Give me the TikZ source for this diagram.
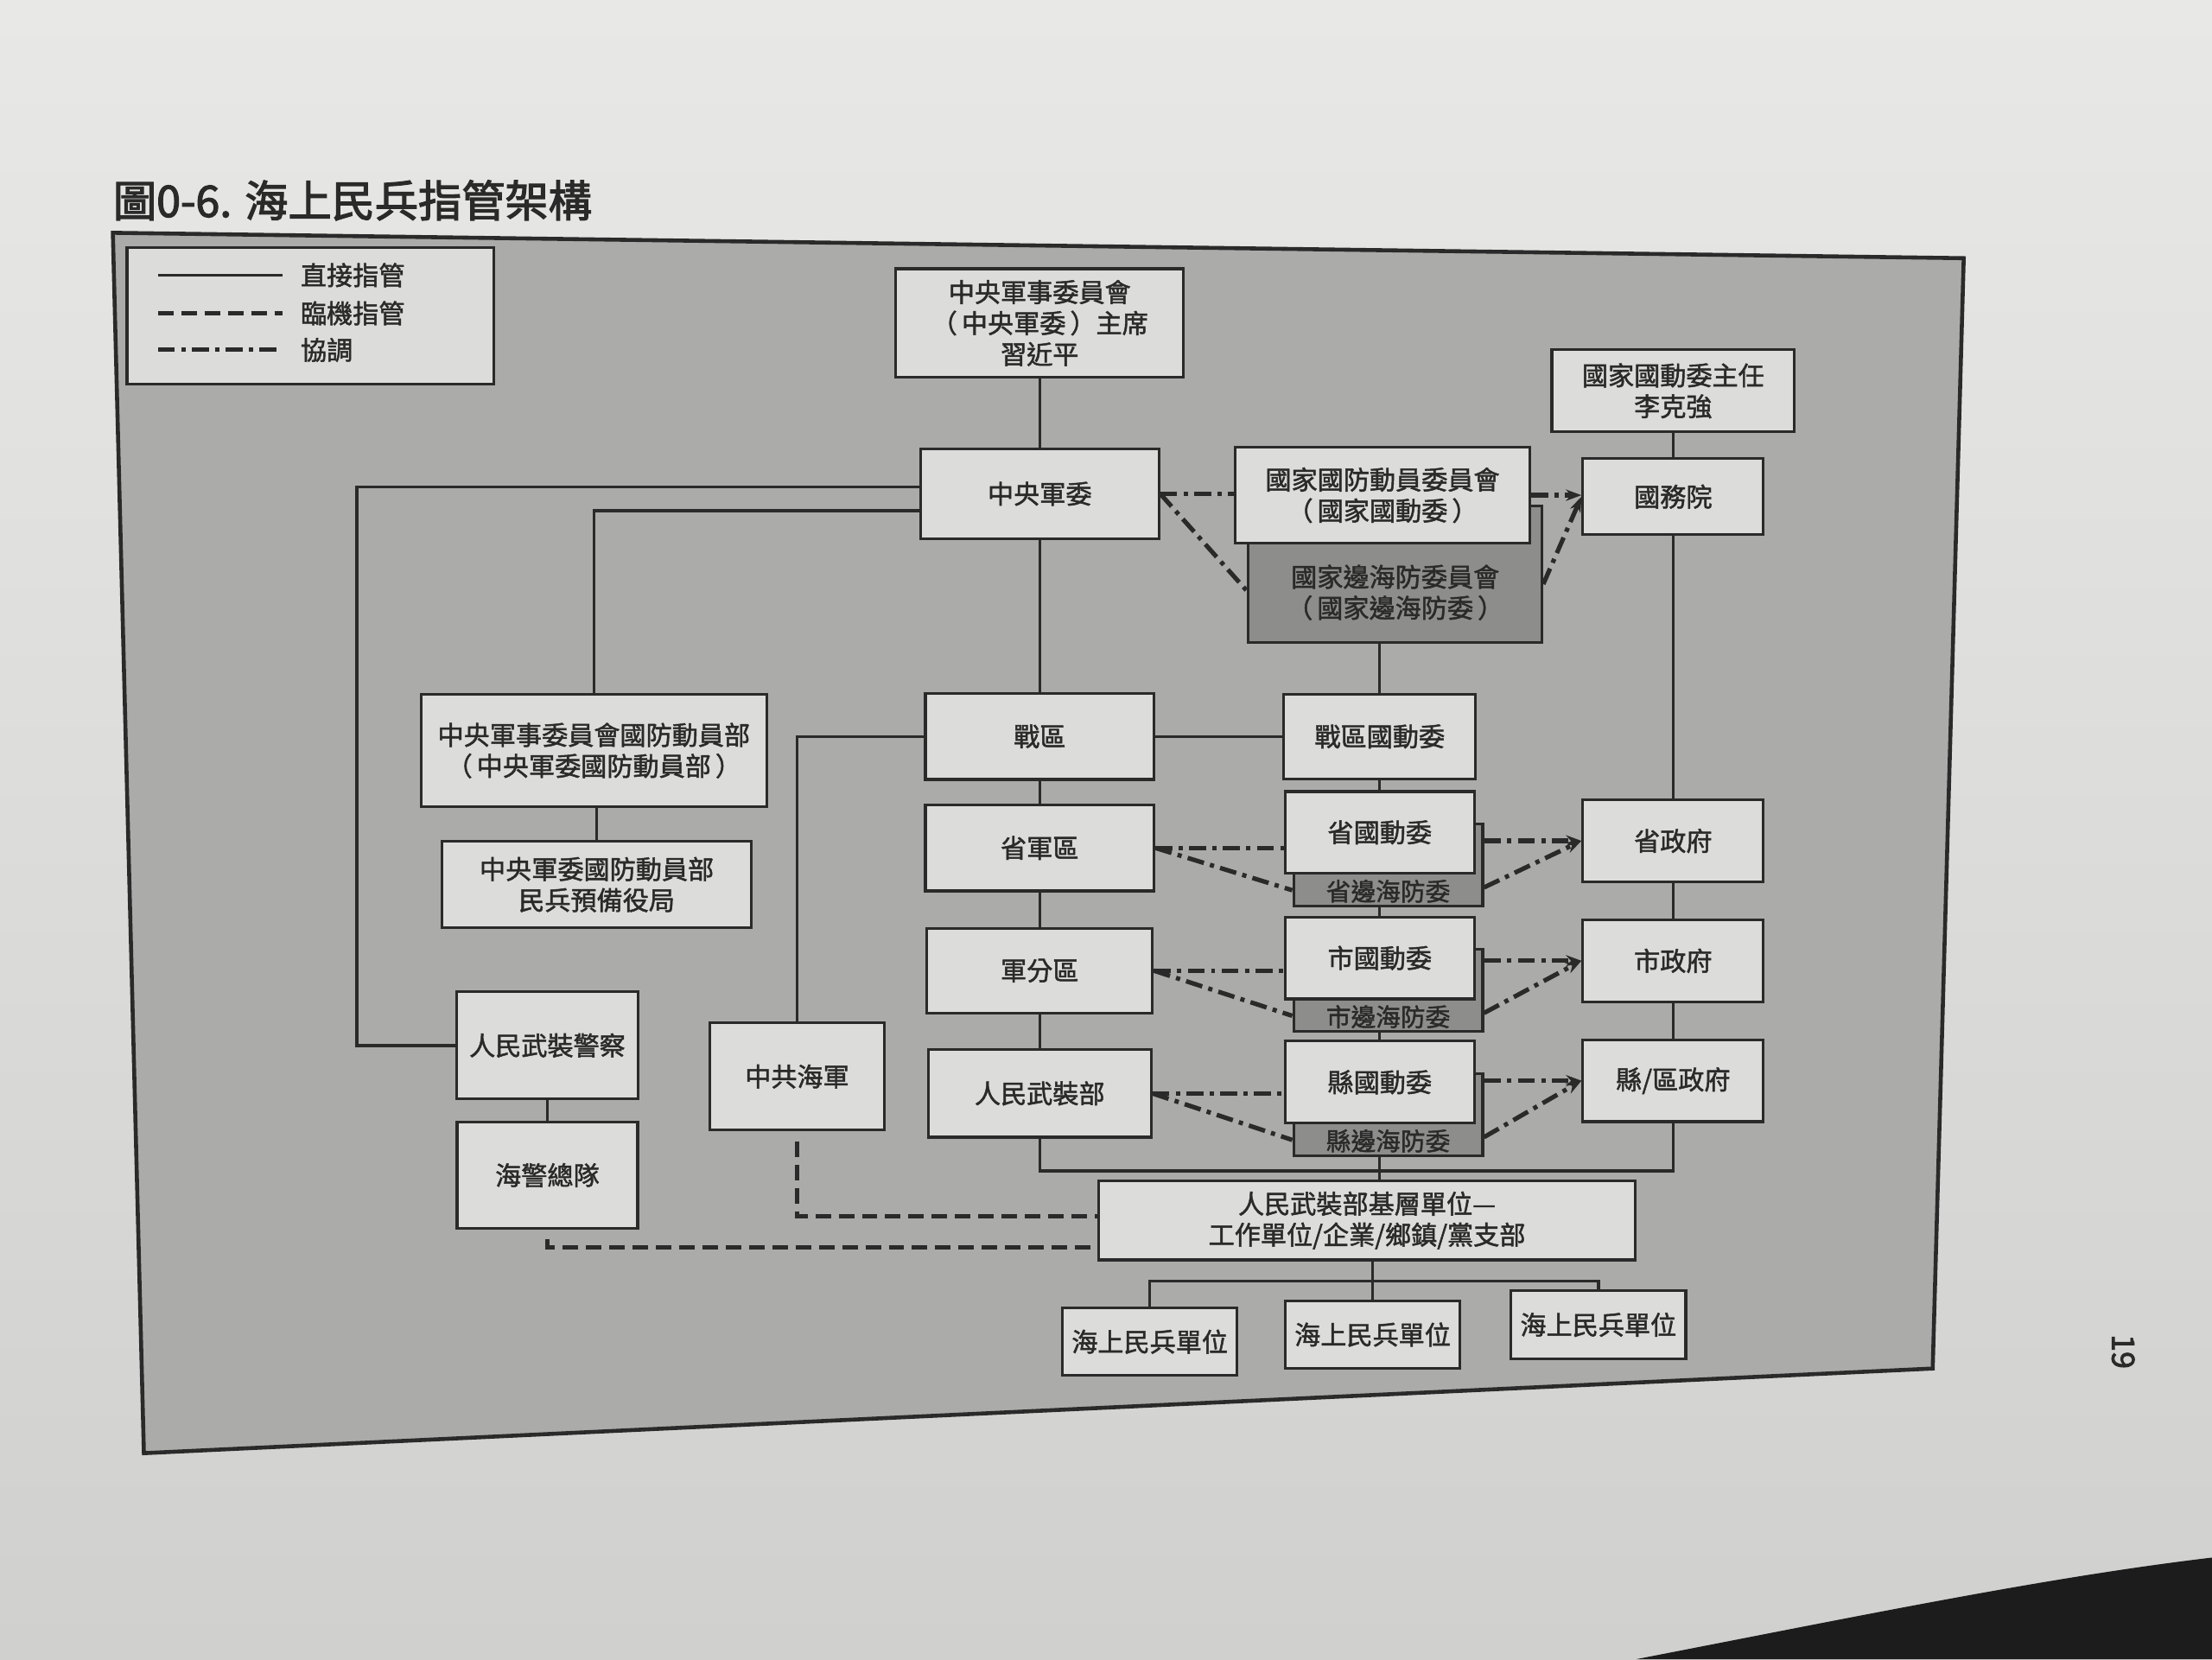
\documentclass[tikz,border=0pt]{standalone}
\usepackage{fontspec}
\setmainfont{Noto Sans CJK TC}
\newfontfamily\boxfont{Noto Sans CJK TC}[FakeBold=1.6]
\newfontfamily\titlefont{Noto Sans CJK TC}[FakeBold=2.5]
\usepackage{tikz}
\usetikzlibrary{calc}
\usetikzlibrary{arrows.meta}
\definecolor{panelgray}{HTML}{ABABA9}
\definecolor{boxfill}{HTML}{DCDCDA}
\definecolor{darkfill}{HTML}{8D8D8B}
\definecolor{inkline}{HTML}{2A2A2A}
\definecolor{pagetop}{HTML}{E8E8E6}
\definecolor{pagebot}{HTML}{D0D0CE}
\definecolor{deskdark}{HTML}{1C1C1C}
\tikzset{
 boxwh/.style 2 args={minimum width=#1*0.2mm, minimum height=#2*0.2mm},
 boxtext/.style={font=\boxfont\fontsize{10.5}{12.5}\selectfont, text=inkline},
 box/.style={draw=inkline, line width=1.1pt, fill=boxfill, align=center, inner sep=1pt, boxtext},
 darkbox/.style={box, fill=darkfill},
 dirline/.style={draw=inkline, line width=1.2pt},
 adhocline/.style={draw=inkline, line width=1.8pt, dash pattern=on 2.2mm off 1.1mm},
 coordline/.style={draw=inkline, line width=1.8pt, dash pattern=on 2.4mm off 0.9mm on 0.6mm off 0.9mm},
 coordarrow/.style={coordline, -{Stealth[length=2.2mm, width=1.6mm]}},
}

\begin{document}
\begin{tikzpicture}[x=0.2mm, y=-0.2mm]
\useasboundingbox (0,0) rectangle (1568,1176);
\shade[top color=pagetop, bottom color=pagebot] (0,0) rectangle (1568,1176);
\fill[deskdark] (1160,1176) .. controls (1320,1145) and (1450,1118) .. (1568,1104) -- (1568,1176) -- cycle;

\node[font=\titlefont\fontsize{17.5}{20}\selectfont, text=inkline, anchor=west] (title) at (74,142) {圖0-6. 海上民兵指管架構};
\filldraw[fill=panelgray, draw=inkline, line width=1.6pt] (80,165) -- (1392,183) -- (1370,970) -- (102,1030) -- cycle;
\node[font=\titlefont\fontsize{12.5}{14}\selectfont, text=inkline, rotate=-90] (pageno) at (1505,958) {19};

% legend
\node[box, boxwh={260}{97}] (legend) at (220,224) {};
\foreach \st/\txt/\yy [count=\i] in {dirline/直接指管/195, adhocline/臨機指管/222, coordline/協調/248} {
 \coordinate (lgs\i) at (112,\yy);
 \draw[\st] (lgs\i) -- ++(88,0);
 \node[boxtext, anchor=west, inner sep=1pt] (lgt\i) at (211,\yy) {\txt};
}

% top
\node[box, boxwh={204}{77}] (chair) at (737,229) {中央軍事委員會\\（\,中央軍委\,）主席\\習近平};
\node[box, boxwh={169}{64}] (cmc) at (737,350) {中央軍委};
\node[darkbox, boxwh={208}{97}, label={[boxtext, align=center, anchor=south, inner sep=2pt, yshift=2.6mm]south:國家邊海防委員會\\（\,國家邊海防委\,）}] (nbc) at (989,407) {};
\node[box, boxwh={209}{68}] (nmc) at (980,351) {國家國防動員委員會\\（\,國家國動委\,）};
\node[box, boxwh={172}{58}] (statedir) at (1186,277) {國家國動委主任\\李克強};
\node[box, boxwh={128}{54}] (council) at (1186,352) {國務院};

% military column
\node[box, boxwh={162}{61}] (theater) at (737,522) {戰區};
\node[box, boxwh={162}{61}] (milprov) at (737,601) {省軍區};
\node[box, boxwh={160}{60}] (milsub) at (737,688) {軍分區};
\node[box, boxwh={158}{62}] (pafd) at (737,775) {人民武裝部};

% mobilization column
\node[box, boxwh={136}{60}] (theaternmc) at (978,522) {戰區國動委};
\foreach \lvl/\lvch/\yy in {prov/省/590, city/市/679, county/縣/767} {
 \node[darkbox, boxwh={134}{58}, label={[boxtext, font=\boxfont\fontsize{10}{12}\selectfont, anchor=south, inner sep=0.3pt, yshift=1.3pt]south:\lvch 邊海防委}] (\lvl bc) at (984,\yy+23) {};
 \node[box, boxwh={134}{58}] (\lvl nmc) at (978,\yy) {\lvch 國動委};
}

% government column
\node[box, boxwh={128}{58}] (provgov) at (1186,596) {省政府};
\node[box, boxwh={128}{58}] (citygov) at (1186,681) {市政府};
\node[box, boxwh={128}{58}] (countygov) at (1186,766) {縣/區政府};

% left side
\node[box, boxwh={245}{80}] (cmcnmd) at (421,532) {中央軍事委員會國防動員部\\（\,中央軍委國防動員部\,）};
\node[box, boxwh={219}{61}] (reserve) at (423,627) {中央軍委國防動員部\\民兵預備役局};
\node[box, boxwh={129}{76}] (pap) at (388,741) {人民武裝警察};
\node[box, boxwh={128}{75}] (ccg) at (388,833) {海警總隊};
\node[box, boxwh={124}{76}] (navy) at (565,763) {中共海軍};

% bottom
\node[box, boxwh={380}{56}] (base) at (969,865) {人民武裝部基層單位—\\工作單位/企業/鄉鎮/黨支部};
\foreach \i/\xx/\yy in {1/815/951, 2/973/946, 3/1133/939}
 \node[box, boxwh={124}{48}] (unit\i) at (\xx,\yy) {海上民兵單位};

% direct command
\draw[dirline] (chair) -- (cmc);
\coordinate (papline) at (253,0);
\draw[dirline] ([yshift=1mm]cmc.west) -| (papline |- pap.west) -- (pap.west);
\draw[dirline] ([yshift=-2.4mm]cmc.west) -| (cmcnmd.north);
\draw[dirline] (reserve.north |- cmcnmd.south) -- (reserve.north);
\draw[dirline] (pap) -- (ccg);
\draw[dirline] (cmc) -- (theater);
\draw[dirline] (theater) -- (milprov);
\draw[dirline] (milprov) -- (milsub);
\draw[dirline] (milsub) -- (pafd);
\draw[dirline] (theater.west) -| (navy.north);
\draw[dirline] (theater) -- (theaternmc);
\draw[dirline] (theaternmc.north |- nbc.south) -- (theaternmc.north);
\draw[dirline] (theaternmc) -- (provnmc);
\draw[dirline] (citynmc.north |- provbc.south) -- (citynmc.north);
\draw[dirline] (countynmc.north |- citybc.south) -- (countynmc.north);
\draw[dirline] (statedir) -- (council);
\draw[dirline] (council) -- (provgov);
\draw[dirline] (provgov) -- (citygov);
\draw[dirline] (citygov) -- (countygov);
\coordinate (bus) at (0,830);
\draw[dirline] (pafd.south) |- (countygov.south |- bus) -- (countygov.south);
\draw[dirline] (countynmc.south |- countybc.south) -- (countynmc.south |- base.north);
\coordinate (unitbus) at (973,908);
\draw[dirline] (unit1.north) |- (unitbus) -| (unit3.north);
\draw[dirline] (base.south -| unitbus) -- (unit2.north);

% ad hoc command
\draw[adhocline] ([yshift=-1.4mm]navy.south) |- ([yshift=0.6mm]base.west);
\draw[adhocline] ([yshift=-1.4mm]ccg.south) |- ([yshift=-3.8mm]base.west);

% coordination
\draw[coordline] (cmc.east) -- (cmc.east -| nmc.west);
\draw[coordline] (cmc.east) -- ([yshift=-2.4mm]nbc.west);
\draw[coordarrow] (nmc.east) -- (nmc.east -| council.west);
\draw[coordarrow] ([yshift=-1.4mm]nbc.east) -- (council.west);
\foreach \lvl/\mil in {prov/milprov, city/milsub, county/pafd} {
 \draw[coordline] (\mil.east) -- (\lvl nmc.west |- \mil.east);
 \draw[coordline] (\mil.east) -- ([yshift=-3.6mm]\lvl bc.west);
 \draw[coordarrow] (\lvl bc.east |- \lvl gov.west) -- (\lvl gov.west);
 \draw[coordarrow] ([yshift=-3.2mm]\lvl bc.east) -- (\lvl gov.west);
}
\end{tikzpicture}
\end{document}
